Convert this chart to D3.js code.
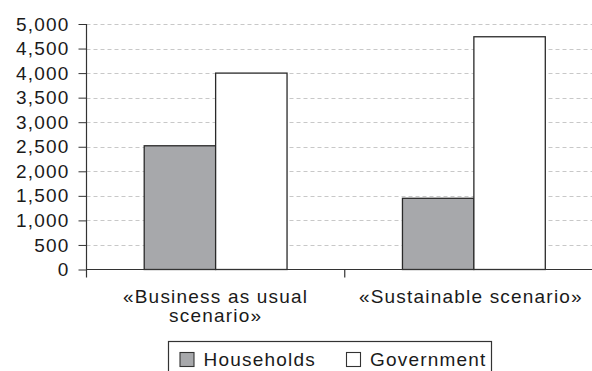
<!DOCTYPE html>
<html>
<head>
<meta charset="utf-8">
<script src="https://cdn.jsdelivr.net/npm/d3@7"></script>
<style>
  body { margin: 0; background: #fff; }
  text { font-family: "Liberation Sans", Arial, sans-serif; fill: #1a1a1a; letter-spacing: 1.2px; }
</style>
</head>
<body>
<svg id="chart" width="592" height="371"></svg>
<script>
// data
const categories = ["«Business as usual scenario»", "«Sustainable scenario»"];
const categoryLines = [["«Business as usual", "scenario»"], ["«Sustainable scenario»"]];
const seriesNames = ["Households", "Government"];
const households = [2520, 1450];
const government = [4000, 4740];
const yTicks = [0, 500, 1000, 1500, 2000, 2500, 3000, 3500, 4000, 4500, 5000];

const colors = { Households: "#a7a8ab", Government: "#ffffff" };

const svg = d3.select("#chart");
const mLeft = 86.5, mRight = 603, mTop = 24, mBottom = 269.5;
const fs = "19px";

const x = d3.scaleBand().domain(categories).range([mLeft, mRight]).paddingInner(0).paddingOuter(0);
const xs = d3.scaleBand().domain(seriesNames).range([0, x.bandwidth()]).paddingOuter(0.808).paddingInner(0);
const y = d3.scaleLinear().domain([0, 5000]).range([mBottom, mTop]);

// gridlines
svg.append("g").selectAll("line").data(yTicks.filter(d => d > 0)).join("line")
  .attr("x1", mLeft).attr("x2", 592)
  .attr("y1", d => Math.round(y(d)) + 0.5).attr("y2", d => Math.round(y(d)) + 0.5)
  .attr("stroke", "#c8c8c8").attr("stroke-dasharray", "4,3").attr("stroke-width", 1);

// bars
const rows = categories.map((c, i) => ({ cat: c, values: [households[i], government[i]] }));
const g = svg.append("g").selectAll("g").data(rows).join("g")
  .attr("transform", d => `translate(${x(d.cat)},0)`);
g.selectAll("rect").data(d => d.values.map((v, j) => ({ key: seriesNames[j], v }))).join("rect")
  .attr("x", d => xs(d.key))
  .attr("y", d => y(d.v))
  .attr("width", xs.bandwidth())
  .attr("height", d => y(0) - y(d.v))
  .attr("fill", d => colors[d.key])
  .attr("stroke", "#2a2a2a").attr("stroke-width", 1.3);

// y axis
const yAxis = svg.append("g").attr("transform", `translate(${mLeft},0)`)
  .call(d3.axisLeft(y).tickValues(yTicks).tickFormat(d3.format(",")).tickSize(8).tickPadding(10));
yAxis.select(".domain").remove();
yAxis.selectAll(".tick line").attr("stroke", "#333");
yAxis.selectAll(".tick text").style("font-size", fs).attr("fill", "#1a1a1a").attr("dx", "1px");
svg.append("line").attr("x1", mLeft).attr("x2", mLeft).attr("y1", mTop).attr("y2", mBottom + 8)
  .attr("stroke", "#333").attr("stroke-width", 1.2);

// x axis line and category boundary ticks
svg.append("line").attr("x1", mLeft).attr("x2", 592).attr("y1", mBottom).attr("y2", mBottom)
  .attr("stroke", "#333").attr("stroke-width", 1.2);
svg.append("g").selectAll("line").data(categories.slice(1)).join("line")
  .attr("x1", d => x(d)).attr("x2", d => x(d)).attr("y1", mBottom).attr("y2", mBottom + 8)
  .attr("stroke", "#333").attr("stroke-width", 1.2);

// category labels
categories.forEach((c, i) => {
  const t = svg.append("text").attr("text-anchor", "middle").style("font-size", fs)
    .attr("transform", `translate(${x(c) + x.bandwidth() / 2 - (i ? 3 : 0)},${mBottom + 33})`);
  categoryLines[i].forEach((ln, k) => {
    t.append("tspan").attr("x", 0).attr("dy", k ? 19 : 0).text(ln);
  });
});

// legend
const lg = svg.append("g").attr("transform", "translate(168.5,341.5)");
lg.append("rect").attr("width", 323).attr("height", 40).attr("fill", "#fff").attr("stroke", "#333").attr("stroke-width", 1.2);
const legX = [11.5, 178];
seriesNames.forEach((s, i) => {
  lg.append("rect").attr("x", legX[i]).attr("y", 11).attr("width", 14).attr("height", 14)
    .attr("fill", colors[s]).attr("stroke", "#333").attr("stroke-width", 1.1);
  lg.append("text").attr("x", legX[i] + 23.5).attr("y", 24).style("font-size", fs).text(s);
});
</script>
</body>
</html>
